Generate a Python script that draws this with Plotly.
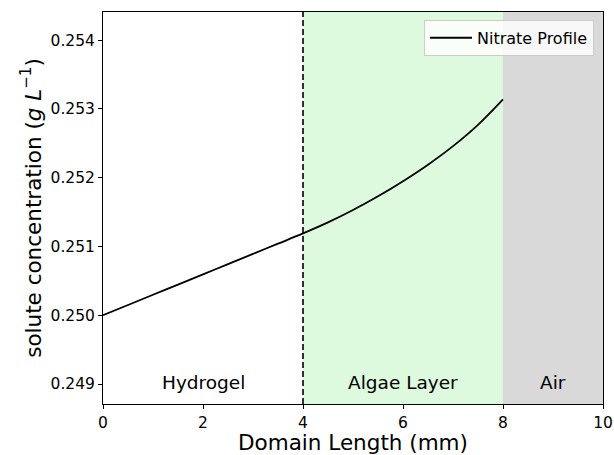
import plotly.graph_objects as go

# Nitrate concentration across the domain (mm -> g/L)
position_mm = [0, 0.5, 1, 1.5, 2, 2.5, 3, 3.5, 4,
               4.5, 5, 5.5, 6, 6.5, 7, 7.5, 8]
nitrate_conc = [0.250000, 0.250149, 0.250298, 0.250446, 0.250595, 0.250744, 0.250893, 0.251041, 0.251190,
                0.251350, 0.251530, 0.251730, 0.251950, 0.252190, 0.252460, 0.252770, 0.253140]

# Layer boundaries (mm) and labels
layer_names = ["Hydrogel", "Algae Layer", "Air"]
layer_bounds = [0, 4, 8, 10]
layer_label_x = [2, 6, 9]
layer_colors = ["rgba(0,0,0,0)", "#defade", "#d9d9d9"]

y_ticks = [0.249, 0.250, 0.251, 0.252, 0.253, 0.254]
x_ticks = [0, 2, 4, 6, 8, 10]

FONT = "DejaVu Sans"

fig = go.Figure()

fig.add_trace(go.Scatter(
    x=position_mm, y=nitrate_conc, mode="lines",
    line=dict(color="black", width=1.8, shape="spline"),
    name="Nitrate Profile",
))

shapes = []
for i in range(1, 3):
    shapes.append(dict(
        type="rect", xref="x", yref="paper",
        x0=layer_bounds[i], x1=layer_bounds[i + 1], y0=0, y1=1,
        fillcolor=layer_colors[i], line=dict(width=0), layer="below",
    ))
# interface between hydrogel and algae layer
shapes.append(dict(
    type="line", xref="x", yref="paper", x0=layer_bounds[1], x1=layer_bounds[1],
    y0=0, y1=1, line=dict(color="black", width=1.6, dash="6px,3px"),
))

annotations = [
    dict(x=lx, y=0.249, xref="x", yref="y", text=name, showarrow=False,
         font=dict(family=FONT, size=18.5, color="black"), yshift=2)
    for lx, name in zip(layer_label_x, layer_names)
]

fig.update_layout(
    width=614, height=455,
    margin=dict(l=103, r=11, t=12, b=51, autoexpand=False),
    paper_bgcolor="white", plot_bgcolor="white",
    font=dict(family=FONT, color="black", size=15.5),
    shapes=shapes, annotations=annotations,
    showlegend=True,
    legend=dict(
        x=0.982, y=0.98, xanchor="right", yanchor="top",
        bgcolor="rgba(255,255,255,0.8)", bordercolor="#cccccc", borderwidth=1,
        font=dict(family=FONT, size=16), itemwidth=42,
    ),
    xaxis=dict(
        range=[0, 10], tickvals=x_ticks, ticktext=[str(v) for v in x_ticks],
        showgrid=False, zeroline=False, showline=True, linecolor="black", linewidth=1,
        mirror=True, ticks="outside", ticklen=4, tickcolor="black", automargin=False,
        title=dict(text="Domain Length (mm)", font=dict(family=FONT, size=21.5), standoff=4),
    ),
    yaxis=dict(
        range=[0.24871, 0.25441], tickvals=y_ticks, ticktext=[f"{v:.3f}" for v in y_ticks],
        showgrid=False, zeroline=False, showline=True, linecolor="black", linewidth=1,
        mirror=True, ticks="outside", ticklen=4, tickcolor="black", automargin=False,
        title=dict(text="solute concentration (<i>g L</i><sup>−1</sup>)",
                   font=dict(family=FONT, size=21.5), standoff=3),
    ),
)

fig.write_html("out.html")
